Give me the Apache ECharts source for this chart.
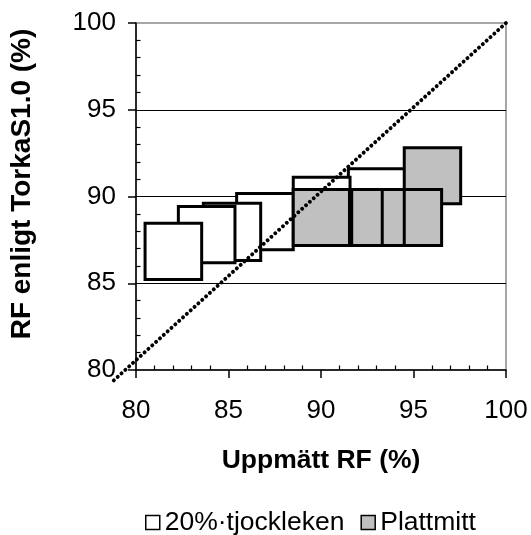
<!DOCTYPE html>
<html>
<head>
<meta charset="utf-8">
<script src="https://cdn.jsdelivr.net/npm/echarts@6/dist/echarts.min.js"></script>
<style>html,body{margin:0;padding:0;background:#fff}#c{width:531px;height:535px}</style>
</head>
<body>
<div id="c"></div>
<script>
// Series 1: "20%·tjockleken" (white boxes) - measured RF range (x) and calculated RF range (y)
const tjockXmin = [91.48, 88.50, 85.44, 83.64, 82.29, 80.49];
const tjockXmax = [94.54, 91.57, 88.50, 86.74, 85.35, 83.55];
const tjockYmin = [88.30, 87.90, 86.93, 86.31, 86.18, 85.22];
const tjockYmax = [91.60, 91.11, 90.18, 89.61, 89.42, 88.46];
// Series 2: "Plattmitt" (grey boxes)
const plattXmin = [94.50, 93.46, 91.44, 90.25, 88.60, 88.50];
const plattXmax = [97.55, 96.52, 94.50, 93.31, 91.66, 91.54];
const plattYmin = [89.58, 87.18, 87.18, 87.18, 87.18, 87.18];
const plattYmax = [92.81, 90.40, 90.40, 90.40, 90.40, 90.40];
// Reference diagonal line
const diagX = [78.8, 100];
const diagY = [79.4, 100];
const axisTicks = [80, 85, 90, 95, 100];

const build = (a, b, c, d) => a.map((v, i) => [v, b[i], c[i], d[i]]);
const FONT = 'Liberation Sans, Arial, sans-serif';

function renderBox(params, api) {
  const p1 = api.coord([api.value(0), api.value(3)]);
  const p2 = api.coord([api.value(1), api.value(2)]);
  return {
    type: 'rect',
    shape: { x: p1[0], y: p1[1], width: p2[0] - p1[0], height: p2[1] - p1[1] },
    style: { fill: api.visual('color'), stroke: '#000', lineWidth: 3 }
  };
}

function renderDiag(params, api) {
  if (params.dataIndex !== 0) return;
  const pts = diagX.map((v, i) => api.coord([v, diagY[i]]));
  return {
    type: 'polyline',
    shape: { points: pts },
    style: { fill: null, stroke: '#000', lineWidth: 3.9, lineDash: [0.1, 5.1], lineCap: 'round' }
  };
}

const chart = echarts.init(document.getElementById('c'), null, { renderer: 'canvas' });
const axisLineStyle = { color: '#000', width: 1.5 };
chart.setOption({
  animation: false,
  backgroundColor: '#fff',
  textStyle: { fontFamily: FONT },
  grid: { left: 136, right: 25, top: 23, bottom: 165, show: true, borderColor: '#8a8a8a', borderWidth: 1.5, backgroundColor: 'transparent' },
  legend: {
    left: 145, top: 509, padding: 0, itemWidth: 14, itemHeight: 14, itemGap: 16,
    textStyle: { fontSize: 26.5, color: '#000', fontFamily: FONT },
    data: [
      { name: '20%·tjockleken', icon: 'rect', itemStyle: { color: '#fff', borderColor: '#000', borderWidth: 1.5 } },
      { name: 'Plattmitt', icon: 'rect', itemStyle: { color: '#c0c0c0', borderColor: '#000', borderWidth: 1.5 } }
    ]
  },
  xAxis: [
    {
      type: 'value', min: axisTicks[0], max: axisTicks[axisTicks.length - 1], interval: 5, position: 'bottom',
      axisLine: { lineStyle: axisLineStyle },
      axisTick: { inside: false, length: 8, lineStyle: axisLineStyle },
      axisLabel: { fontSize: 26, color: '#000', margin: 28, fontFamily: FONT },
      splitLine: { show: false },
      name: 'Uppmätt RF (%)', nameLocation: 'middle', nameGap: 77,
      nameTextStyle: { fontSize: 26.5, fontWeight: 'bold', color: '#000', fontFamily: FONT }
    },
    {
      type: 'value', min: axisTicks[0], max: axisTicks[axisTicks.length - 1], interval: 5, position: 'bottom',
      axisLine: { show: false },
      axisTick: { show: false, inside: true },
      minorTick: { show: true, splitNumber: 5, length: 4.5, lineStyle: { color: '#000', width: 1.2 } },
      axisLabel: { show: false }, splitLine: { show: false }
    }
  ],
  yAxis: [
    {
      type: 'value', min: axisTicks[0], max: axisTicks[axisTicks.length - 1], interval: 5, position: 'left',
      axisLine: { show: true, lineStyle: axisLineStyle },
      axisTick: { show: true, inside: false, length: 8, lineStyle: axisLineStyle },
      axisLabel: { fontSize: 26, color: '#000', margin: 20, fontFamily: FONT },
      splitLine: { show: true, showMinLine: false, showMaxLine: false, lineStyle: { color: '#000', width: 1 } },
      name: 'RF enligt TorkaS1.0 (%)', nameLocation: 'middle', nameGap: 100,
      nameTextStyle: { fontSize: 28, fontWeight: 'bold', color: '#000', fontFamily: FONT, padding: [0, 0, 0, 25] }
    },
    {
      type: 'value', min: axisTicks[0], max: axisTicks[axisTicks.length - 1], interval: 5, position: 'left',
      axisLine: { show: false },
      axisTick: { show: false, inside: true },
      minorTick: { show: true, splitNumber: 5, length: 4.5, lineStyle: { color: '#000', width: 1.2 } },
      axisLabel: { show: false }, splitLine: { show: false }
    }
  ],
  series: [
    {
      name: '20%·tjockleken', type: 'custom', renderItem: renderBox,
      itemStyle: { color: '#fff', borderColor: '#000' },
      encode: { x: [0, 1], y: [2, 3] },
      data: build(tjockXmin, tjockXmax, tjockYmin, tjockYmax), z: 2
    },
    {
      name: 'Plattmitt', type: 'custom', renderItem: renderBox,
      itemStyle: { color: '#c0c0c0', borderColor: '#000' },
      encode: { x: [0, 1], y: [2, 3] },
      data: build(plattXmin, plattXmax, plattYmin, plattYmax), z: 3
    },
    {
      name: 'diagonal', type: 'custom', renderItem: renderDiag, clip: false, silent: true, z: 5,
      encode: { x: 0, y: 1 },
      data: diagX.map((v, i) => [v, diagY[i]])
    }
  ]
});
</script>
</body>
</html>
